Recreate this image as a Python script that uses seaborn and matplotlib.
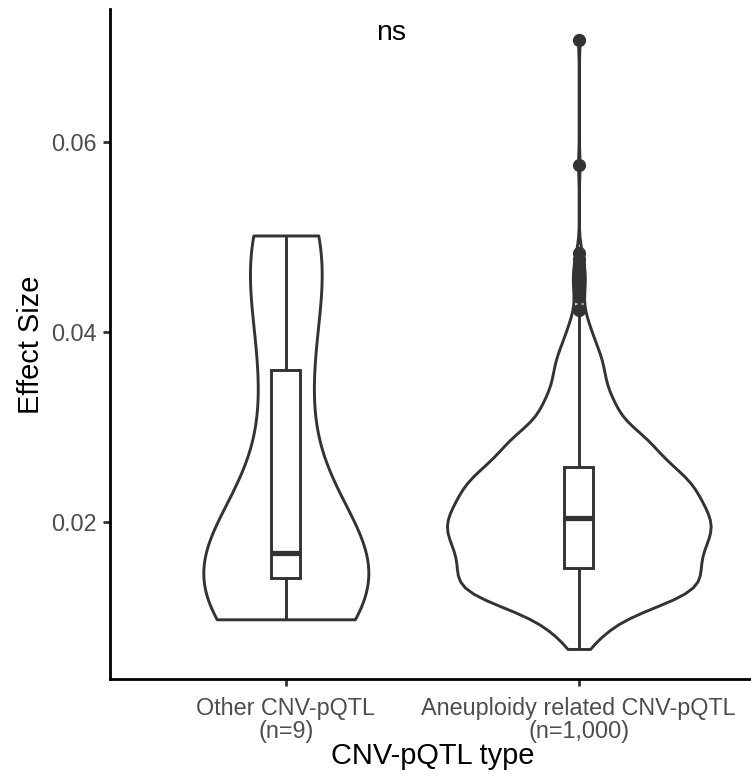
import numpy as np
import pandas as pd
import seaborn as sns
import matplotlib.pyplot as plt

# ---- data -------------------------------------------------------------
categories = ["Other CNV-pQTL\n(n=9)", "Aneuploidy related CNV-pQTL\n(n=1,000)"]

# effect sizes of the 9 "other" CNV-pQTLs
other_effect = [0.00982, 0.0123, 0.01412, 0.0152, 0.01675, 0.0240, 0.03606, 0.0465, 0.05016]

# aneuploidy related CNV-pQTLs: counts per 0.0005-wide effect-size bin,
# first bin centred on 0.0067
aneu_bin_first = 0.0067
aneu_bin_width = 0.0005
aneu_counts = [
    2, 3, 4, 4, 6, 7, 7, 8, 10, 15,
    20, 23, 24, 24, 24, 23, 24,
    24, 23, 23, 23, 24, 25, 25, 26, 26, 26, 27,
    26, 24, 24, 24, 23, 23, 23, 22, 22, 20, 19,
    17, 16, 15, 14, 15, 15, 14, 11, 9, 7,
    7, 8, 8, 7, 7, 5, 5, 5, 5, 5,
    5, 5, 5, 4, 4, 3, 3, 3, 2, 2,
    2, 2,
]
# large-effect tail beyond the upper whisker
aneu_tail = [0.04236, 0.0437, 0.0441, 0.0445, 0.0449, 0.0453, 0.0456, 0.0460,
             0.0464, 0.0468, 0.0472, 0.0477, 0.0483, 0.05758, 0.07071]

aneu_levels = np.round(aneu_bin_first + aneu_bin_width * np.arange(len(aneu_counts)), 5)
aneu_effect = np.concatenate([np.repeat(aneu_levels, aneu_counts), aneu_tail])

df = pd.DataFrame({
    "type": [categories[0]] * len(other_effect) + [categories[1]] * len(aneu_effect),
    "effect": np.concatenate([other_effect, aneu_effect]),
})

sig_label = "ns"


def nrd0(kde):
    """Silverman's rule of thumb (R's bw.nrd0) as a gaussian_kde factor."""
    x = kde.dataset.ravel()
    sd = np.std(x, ddof=1)
    iqr = np.subtract(*np.percentile(x, [75, 25]))
    bw = 0.9 * min(sd, iqr / 1.34) * len(x) ** (-0.2)
    return bw / sd


# ---- style ------------------------------------------------------------
sns.set_style("white")
plt.rcParams["font.family"] = ["Liberation Sans", "DejaVu Sans"]

ink = "#333333"
lw = 2.1

fig = plt.figure(figsize=(7.51, 7.78), dpi=100)
ax = fig.add_axes([0.1465, 0.1267, 0.8583, 0.8611])

sns.violinplot(
    data=df, x="type", y="effect", order=categories, ax=ax,
    inner=None, cut=0, density_norm="area", width=0.9,
    bw_method=nrd0, bw_adjust=0.8,
    color="white", linecolor=ink, linewidth=lw, saturation=1,
)
sns.boxplot(
    data=df, x="type", y="effect", order=categories, ax=ax,
    width=0.1, color="white", linecolor=ink, linewidth=lw, saturation=1,
    showcaps=False, fliersize=8.5,
    flierprops=dict(marker="o", markerfacecolor=ink, markeredgecolor=ink, markersize=8.5),
    medianprops=dict(color=ink, linewidth=3.8),
)

ymin, ymax = df["effect"].min(), df["effect"].max()
pad = 0.05 * (ymax - ymin)
ax.set_ylim(ymin - pad, ymax + pad)
ax.set_xlim(-0.6, 1.6)

ax.text(0.36, ymax, sig_label, ha="center", va="baseline", fontsize=20.5, color="black")

ax.set_yticks([0.02, 0.04, 0.06])
ax.set_yticklabels(["0.02", "0.04", "0.06"])
ax.tick_params(axis="both", which="both", length=5.3, width=2, color=ink,
               labelsize=16.8, labelcolor="#4D4D4D", pad=4.2, left=True, bottom=True)
ax.tick_params(axis="x", pad=7.0)
for lab in ax.get_xticklabels():
    lab.set_linespacing(1.05)

for side in ["top", "right"]:
    ax.spines[side].set_visible(False)
for side in ["left", "bottom"]:
    ax.spines[side].set_color("black")
    ax.spines[side].set_linewidth(2)

ax.set_xlabel("CNV-pQTL type", fontsize=20.9, color="black", labelpad=-1.0)
ax.set_ylabel("Effect Size", fontsize=20.9, color="black", labelpad=4.5)

fig.savefig("out.png", dpi=100)
